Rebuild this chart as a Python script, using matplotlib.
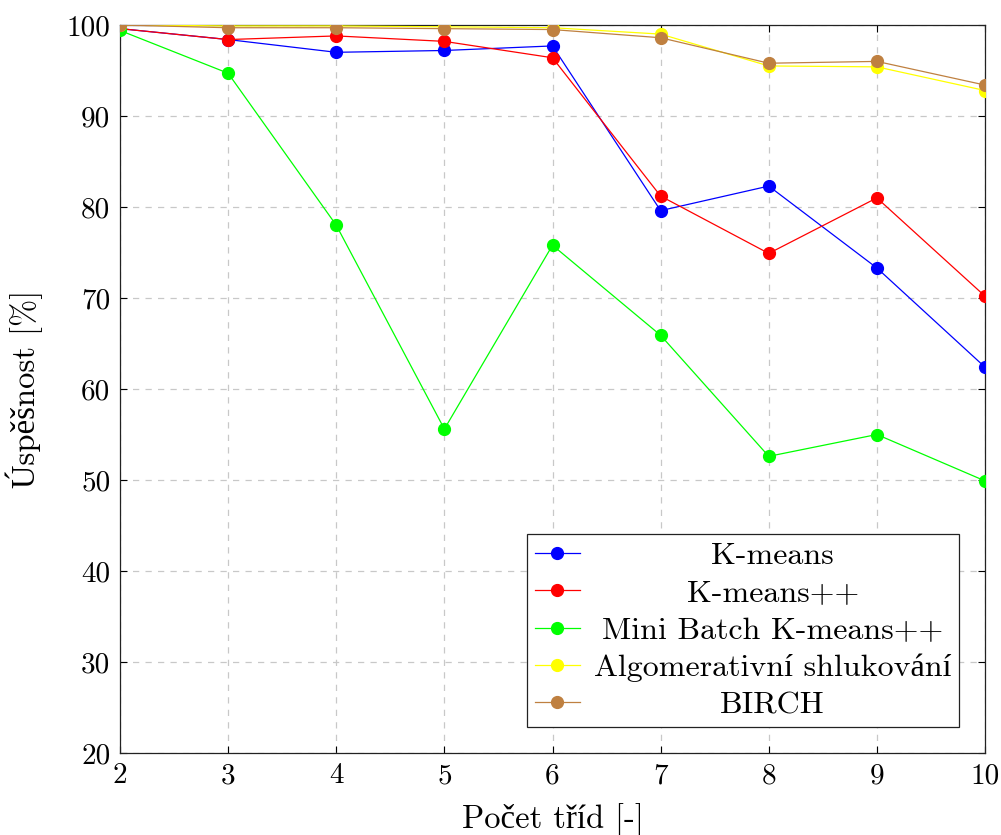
import matplotlib
matplotlib.use("Agg")
import matplotlib.pyplot as plt

plt.rcParams['font.family'] = ['cmr10', 'Liberation Serif']
plt.rcParams['mathtext.fontset'] = 'cm'
plt.rcParams['axes.unicode_minus'] = False

x = [2, 3, 4, 5, 6, 7, 8, 9, 10]
kmeans = [99.6, 98.4, 97.0, 97.2, 97.7, 79.6, 82.3, 73.3, 62.4]
kmeanspp = [99.6, 98.4, 98.8, 98.2, 96.4, 81.2, 74.9, 81.0, 70.2]
minibatch = [99.4, 94.7, 78.0, 55.6, 75.8, 65.9, 52.6, 55.0, 49.9]
agglo = [100.0, 99.9, 99.9, 99.8, 99.7, 99.0, 95.5, 95.4, 92.8]
birch = [100.0, 99.7, 99.7, 99.6, 99.5, 98.6, 95.8, 96.0, 93.4]

labels = ["K-means", "K-means++", "Mini Batch K-means++",
          "Algomerativní shlukování", "BIRCH"]
colors = ["#0000ff", "#ff0000", "#00ff00", "#ffff00", "#bf8040"]
series = [kmeans, kmeanspp, minibatch, agglo, birch]

fig = plt.figure(figsize=(10.01, 8.35), dpi=100)
ax = fig.add_axes([120/1001, 1-753/835, (985-120)/1001, (753-25)/835])

for ys, c, lab in zip(series, colors, labels):
    ax.plot(x, ys, color=c, lw=0.9, marker='o', ms=8.5, label=lab, zorder=3)

ax.set_xlim(2, 10)
ax.set_ylim(20, 100)
ax.set_xticks(x)
ax.set_yticks(range(20, 101, 10))
ax.grid(True, ls=(0, (5, 5)), color='#c8c8c8', lw=0.9)
ax.tick_params(direction='in', top=True, right=True, labelsize=21, length=5, pad=7)
for s in ax.spines.values():
    s.set_linewidth(0.9)
    s.set_color('#222222')
ax.set_xlabel("Počet tříd [-]", fontsize=23.5, labelpad=10)
ax.set_ylabel("Úspěšnost [%]", fontsize=23.5, labelpad=17)

leg = ax.legend(loc='lower right', fontsize=23, frameon=True, fancybox=False,
                edgecolor='#222222', framealpha=1, borderpad=0.25,
                labelspacing=0.28, handlelength=1.4, handletextpad=0.45,
                borderaxespad=0.8)
leg.get_frame().set_linewidth(0.9)

fig.canvas.draw()
r = fig.canvas.get_renderer()
texts = leg.get_texts()
ws = [t.get_window_extent(r).width for t in texts]
W = max(ws)
for t, w in zip(texts, ws):
    t.set_x((W - w) / 2)

fig.savefig("out.png", dpi=100)
